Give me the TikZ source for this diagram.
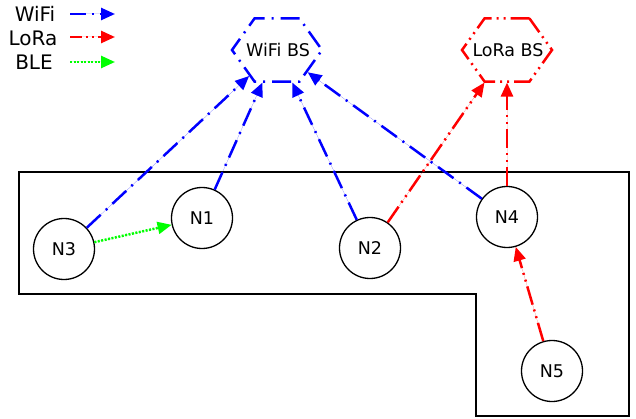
\documentclass[tikz,border=0pt]{standalone}
\usepackage{fontspec}
\setmainfont{DejaVu Sans}
\usetikzlibrary{arrows.meta,shapes.geometric}
\definecolor{wblue}{RGB}{0,0,255}
\definecolor{lred}{RGB}{255,0,0}
\definecolor{bgreen}{RGB}{0,255,0}
\tikzset{
  dev/.style={circle,draw=black,line width=1.3pt,minimum size=61pt,inner sep=0pt,font=\fontsize{17.5}{20}\selectfont},
  bs/.style={regular polygon,regular polygon sides=6,minimum size=90pt,inner sep=0pt,yscale=0.809},
  bslabel/.style={inner sep=0pt,font=\fontsize{17.5}{20}\selectfont},
  wifiline/.style={draw=wblue,line width=2.5pt,dash pattern=on 19pt off 7pt on 2pt off 7pt},
  loraline/.style={draw=lred,line width=2.5pt,dash pattern=on 19pt off 5pt on 2pt off 5pt on 2pt off 5pt},
  bleline/.style={draw=bgreen,line width=2.5pt,dash pattern=on 2pt off 1.5pt},
  wifi/.style={wifiline,-{Triangle[length=14pt,width=12pt]},fill=wblue},
  lora/.style={loraline,-{Triangle[length=14pt,width=12pt]},fill=lred},
  ble/.style={bleline,-{Triangle[length=14pt,width=12pt]},fill=bgreen},
  legtext/.style={font=\fontsize{20}{23}\selectfont,inner sep=0pt}
}
\begin{document}
\begin{tikzpicture}[x=1pt,y=-1pt]
\useasboundingbox (0,0) rectangle (636,419);
% region
\draw[line width=1.3pt] (19,172) -- (629,172) -- (629,416) -- (476,416) -- (476,294) -- (19,294) -- cycle;
% base stations
\node[bs,wifiline] (wbs) at (277,50) {};
\node[bslabel] (wbsl) at (278,50) {WiFi BS};
\node[bs,loraline] (lbs) at (507,50) {};
\node[bslabel] (lbsl) at (508,50) {LoRa BS};
% devices
\node[dev] (n3) at (64,249) {N3};
\node[dev] (n1) at (202,218) {N1};
\node[dev] (n2) at (370,248) {N2};
\node[dev] (n4) at (507,217) {N4};
\node[dev] (n5) at (552,371) {N5};
% connectors
\draw[wifi] (n3) -- (wbs);
\draw[wifi] (n1) -- (wbs);
\draw[wifi] (n2) -- (wbs);
\draw[wifi] (n4) -- (wbs);
\draw[lora] (n2) -- (lbs);
\draw[lora] (n4) -- (lbs);
\draw[lora] (n5) -- (n4);
\draw[ble] (n3) -- (n1);
% legend
\node[legtext] (lw) at (35,14) {WiFi};
\node[legtext] (ll) at (33,38) {LoRa};
\node[legtext] (lb) at (34,62) {BLE};
\coordinate (lw1) at (70,14); \coordinate (lw2) at (115,14);
\coordinate (ll1) at (70,37); \coordinate (ll2) at (115,37);
\coordinate (lb1) at (70,62); \coordinate (lb2) at (115,62);
\draw[wifi,dash pattern=on 16pt off 6pt on 2pt off 6pt] (lw1) -- (lw2);
\draw[lora,dash pattern=on 12pt off 4pt on 2pt off 4pt on 2pt off 4pt] (ll1) -- (ll2);
\draw[ble] (lb1) -- (lb2);
\end{tikzpicture}
\end{document}
